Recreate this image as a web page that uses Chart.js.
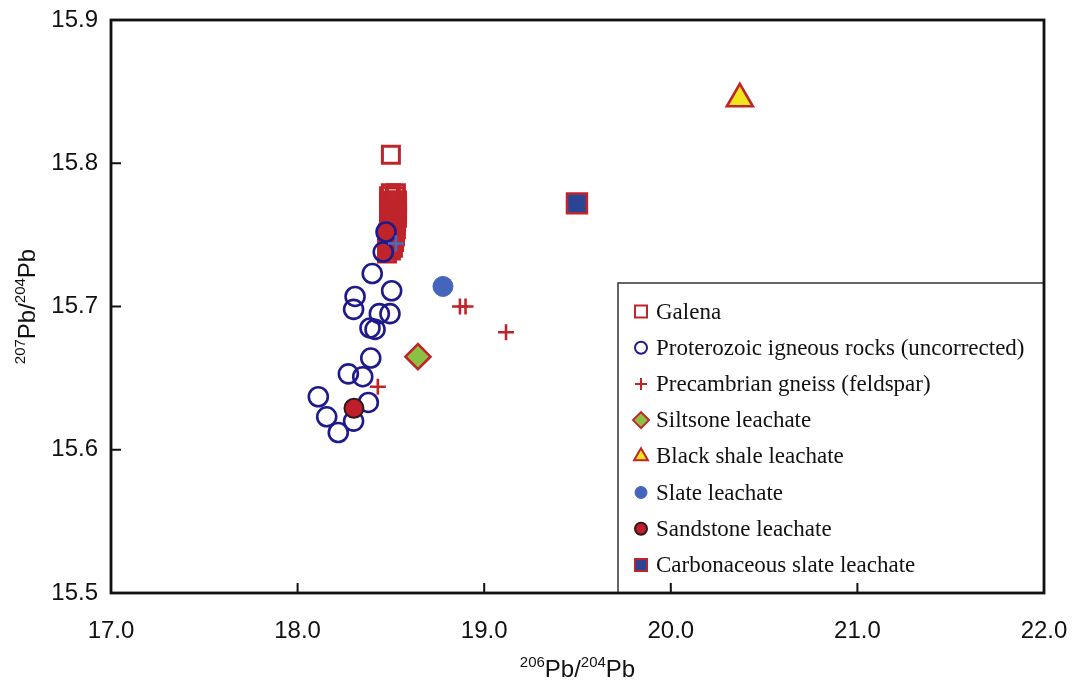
<!DOCTYPE html>
<html>
<head>
<meta charset="utf-8">
<script src="https://cdn.jsdelivr.net/npm/chart.js@4.4.1/dist/chart.umd.min.js"></script>
<style>
  html, body { margin: 0; padding: 0; background: #fff; }
  #wrap { width: 1072px; height: 682px; }
</style>
</head>
<body>
<div id="wrap"><canvas id="pbChart"></canvas></div>
<script>
// 206Pb/204Pb vs 207Pb/204Pb
const xTicks = [17.0, 18.0, 19.0, 20.0, 21.0, 22.0];
const yTicks = [15.5, 15.6, 15.7, 15.8, 15.9];

// galena: one isolated analysis plus a dense cluster
const galenaX = [18.500,
  18.500, 18.527, 18.490, 18.522, 18.506, 18.533, 18.490, 18.522, 18.506, 18.533,
  18.490, 18.522, 18.506, 18.533, 18.490, 18.522, 18.506, 18.533, 18.490, 18.522,
  18.500, 18.527, 18.490, 18.522, 18.500, 18.527, 18.484, 18.517, 18.495, 18.522,
  18.484, 18.511, 18.495, 18.517, 18.479, 18.506, 18.490, 18.511, 18.479, 18.500, 18.479];
const galenaY = [15.806,
  15.779, 15.779, 15.777, 15.777, 15.774, 15.774, 15.772, 15.772, 15.770, 15.770,
  15.768, 15.768, 15.766, 15.766, 15.764, 15.764, 15.762, 15.762, 15.760, 15.760,
  15.758, 15.758, 15.756, 15.756, 15.754, 15.754, 15.751, 15.751, 15.749, 15.749,
  15.747, 15.747, 15.745, 15.745, 15.743, 15.743, 15.741, 15.741, 15.739, 15.739, 15.737];

const igneousX = [18.474, 18.459, 18.40, 18.504, 18.308, 18.30, 18.438, 18.495, 18.388, 18.415, 18.392, 18.272, 18.349, 18.111, 18.379, 18.156, 18.30, 18.218];
const igneousY = [15.752, 15.738, 15.723, 15.711, 15.707, 15.698, 15.695, 15.695, 15.685, 15.684, 15.664, 15.653, 15.651, 15.637, 15.633, 15.623, 15.620, 15.612];

const gneissX = [18.43, 18.87, 18.90, 19.117, 18.527];
const gneissY = [15.644, 15.700, 15.700, 15.682, 15.744];

const siltX = [18.645];
const siltY = [15.665];
const shaleX = [20.37];
const shaleY = [15.845];
const slateX = [18.779];
const slateY = [15.714];
const sandX = [18.302];
const sandY = [15.629];
const carbX = [19.497];
const carbY = [15.772];

const RED = '#c0242b';
const NAVY = '#1e1a8c';

function pts(xs, ys) { return xs.map((x, i) => ({ x: x, y: ys[i] })); }

const datasets = [
  { label: 'Galena', data: pts(galenaX, galenaY), pointStyle: 'rect', pointRadius: 12,
    backgroundColor: 'rgba(255,255,255,0)', borderColor: RED, borderWidth: 3, order: 9 },
  { label: 'Proterozoic igneous rocks (uncorrected)', data: pts(igneousX, igneousY), pointStyle: 'circle', pointRadius: 9.5,
    backgroundColor: 'rgba(0,0,0,0)', borderColor: NAVY, borderWidth: 2.6, order: 8 },
  { label: 'Precambrian gneiss (feldspar)', data: pts(gneissX, gneissY), pointStyle: 'cross', pointRadius: 8,
    backgroundColor: RED, borderColor: [RED, RED, RED, RED, '#4a6cc0'], borderWidth: 2.6, order: 2 },
  { label: 'Siltsone leachate', data: pts(siltX, siltY), pointStyle: 'rectRot', pointRadius: 12.5,
    backgroundColor: '#8cc043', borderColor: RED, borderWidth: 2.6, order: 3 },
  { label: 'Black shale leachate', data: pts(shaleX, shaleY), pointStyle: 'triangle', pointRadius: 15,
    backgroundColor: '#f1e51e', borderColor: RED, borderWidth: 2.6, order: 4 },
  { label: 'Slate leachate', data: pts(slateX, slateY), pointStyle: 'circle', pointRadius: 10,
    backgroundColor: '#4565bd', borderColor: '#4565bd', borderWidth: 1, order: 5 },
  { label: 'Sandstone leachate', data: pts(sandX, sandY), pointStyle: 'circle', pointRadius: 9.5,
    backgroundColor: '#bf1e2a', borderColor: '#2a1a1e', borderWidth: 2, order: 1 },
  { label: 'Carbonaceous slate leachate', data: pts(carbX, carbY), pointStyle: 'rect', pointRadius: 14,
    backgroundColor: '#2b4595', borderColor: RED, borderWidth: 2.6, order: 6 }
];

// legend marker sizes (smaller than in plot)
const legendRadius = [8.5, 6, 6, 8, 8, 6, 6, 8.5];

function drawRich(ctx, parts, x, y, size) {
  const big = size + 'px "Liberation Sans", Arial, sans-serif';
  const small = Math.round(size * 0.62) + 'px "Liberation Sans", Arial, sans-serif';
  let w = 0;
  parts.forEach(p => { ctx.font = p.sup ? small : big; w += ctx.measureText(p.t).width; });
  let cx = x - w / 2;
  ctx.textAlign = 'left';
  ctx.textBaseline = 'alphabetic';
  parts.forEach(p => {
    ctx.font = p.sup ? small : big;
    ctx.fillText(p.t, cx, p.sup ? y - size * 0.42 : y);
    cx += ctx.measureText(p.t).width;
  });
}

const framePlugin = {
  id: 'frame',
  afterDraw(chart) {
    const ctx = chart.ctx;
    const a = chart.chartArea;
    const xs = chart.scales.x, ys = chart.scales.y;
    ctx.save();

    // legend box
    const lx = 618, ly = 283;
    ctx.fillStyle = '#fff';
    ctx.fillRect(lx, ly, a.right - lx, a.bottom - ly);
    ctx.strokeStyle = '#333';
    ctx.lineWidth = 1.5;
    ctx.strokeRect(lx, ly, a.right - lx, a.bottom - ly);
    ctx.font = '23px "Liberation Serif", "Times New Roman", serif';
    ctx.textBaseline = 'middle';
    ctx.textAlign = 'left';
    chart.data.datasets.forEach((ds, i) => {
      const my = 311.5 + i * 36.2;
      const opts = {
        pointStyle: ds.pointStyle, radius: legendRadius[i], rotation: 0,
        borderWidth: Math.min(ds.borderWidth, 2)
      };
      ctx.fillStyle = ds.backgroundColor;
      ctx.strokeStyle = Array.isArray(ds.borderColor) ? ds.borderColor[0] : ds.borderColor;
      ctx.lineWidth = opts.borderWidth;
      Chart.helpers.drawPoint(ctx, opts, 641, my);
      ctx.fillStyle = '#111';
      ctx.fillText(ds.label, 656, my + 1);
    });

    // frame
    ctx.strokeStyle = '#111';
    ctx.lineWidth = 2.8;
    ctx.strokeRect(a.left, a.top, a.right - a.left, a.bottom - a.top);

    // inward ticks
    ctx.lineWidth = 2;
    xTicks.slice(1, -1).forEach(v => {
      const px = xs.getPixelForValue(v);
      ctx.beginPath(); ctx.moveTo(px, a.bottom); ctx.lineTo(px, a.bottom - 10); ctx.stroke();
    });
    yTicks.slice(1, -1).forEach(v => {
      const py = ys.getPixelForValue(v);
      ctx.beginPath(); ctx.moveTo(a.left, py); ctx.lineTo(a.left + 10, py); ctx.stroke();
    });

    // axis titles
    ctx.fillStyle = '#111';
    drawRich(ctx, [{ t: '206', sup: true }, { t: 'Pb' }, { t: '/' }, { t: '204', sup: true }, { t: 'Pb' }],
      (a.left + a.right) / 2, 677, 24);
    ctx.translate(35, (a.top + a.bottom) / 2);
    ctx.rotate(-Math.PI / 2);
    drawRich(ctx, [{ t: '207', sup: true }, { t: 'Pb' }, { t: '/' }, { t: '204', sup: true }, { t: 'Pb' }],
      0, 0, 24);
    ctx.restore();
  }
};

new Chart(document.getElementById('pbChart'), {
  type: 'scatter',
  data: { datasets: datasets },
  options: {
    responsive: true,
    maintainAspectRatio: false,
    animation: false,
    layout: { padding: { left: 0, right: 28, top: 20, bottom: 0 } },
    plugins: { legend: { display: false }, tooltip: { enabled: false } },
    scales: {
      x: {
        type: 'linear', min: 17, max: 22,
        afterBuildTicks: s => { s.ticks = xTicks.map(v => ({ value: v })); },
        afterFit: s => { s.height = 89; s.paddingLeft = 0; s.paddingRight = 0; },
        grid: { display: false, drawTicks: false },
        border: { display: false },
        ticks: {
          padding: 24, color: '#111', maxRotation: 0,
          font: { family: '"Liberation Sans", Arial, sans-serif', size: 24 },
          callback: v => Number(v).toFixed(1)
        }
      },
      y: {
        type: 'linear', min: 15.5, max: 15.9,
        afterBuildTicks: s => { s.ticks = yTicks.map(v => ({ value: v })); },
        afterFit: s => { s.width = 111; s.paddingTop = 0; s.paddingBottom = 0; },
        grid: { display: false, drawTicks: false },
        border: { display: false },
        ticks: {
          padding: 13, color: '#111',
          font: { family: '"Liberation Sans", Arial, sans-serif', size: 24 },
          callback: v => Number(v).toFixed(1)
        }
      }
    }
  },
  plugins: [framePlugin]
});
</script>
</body>
</html>
